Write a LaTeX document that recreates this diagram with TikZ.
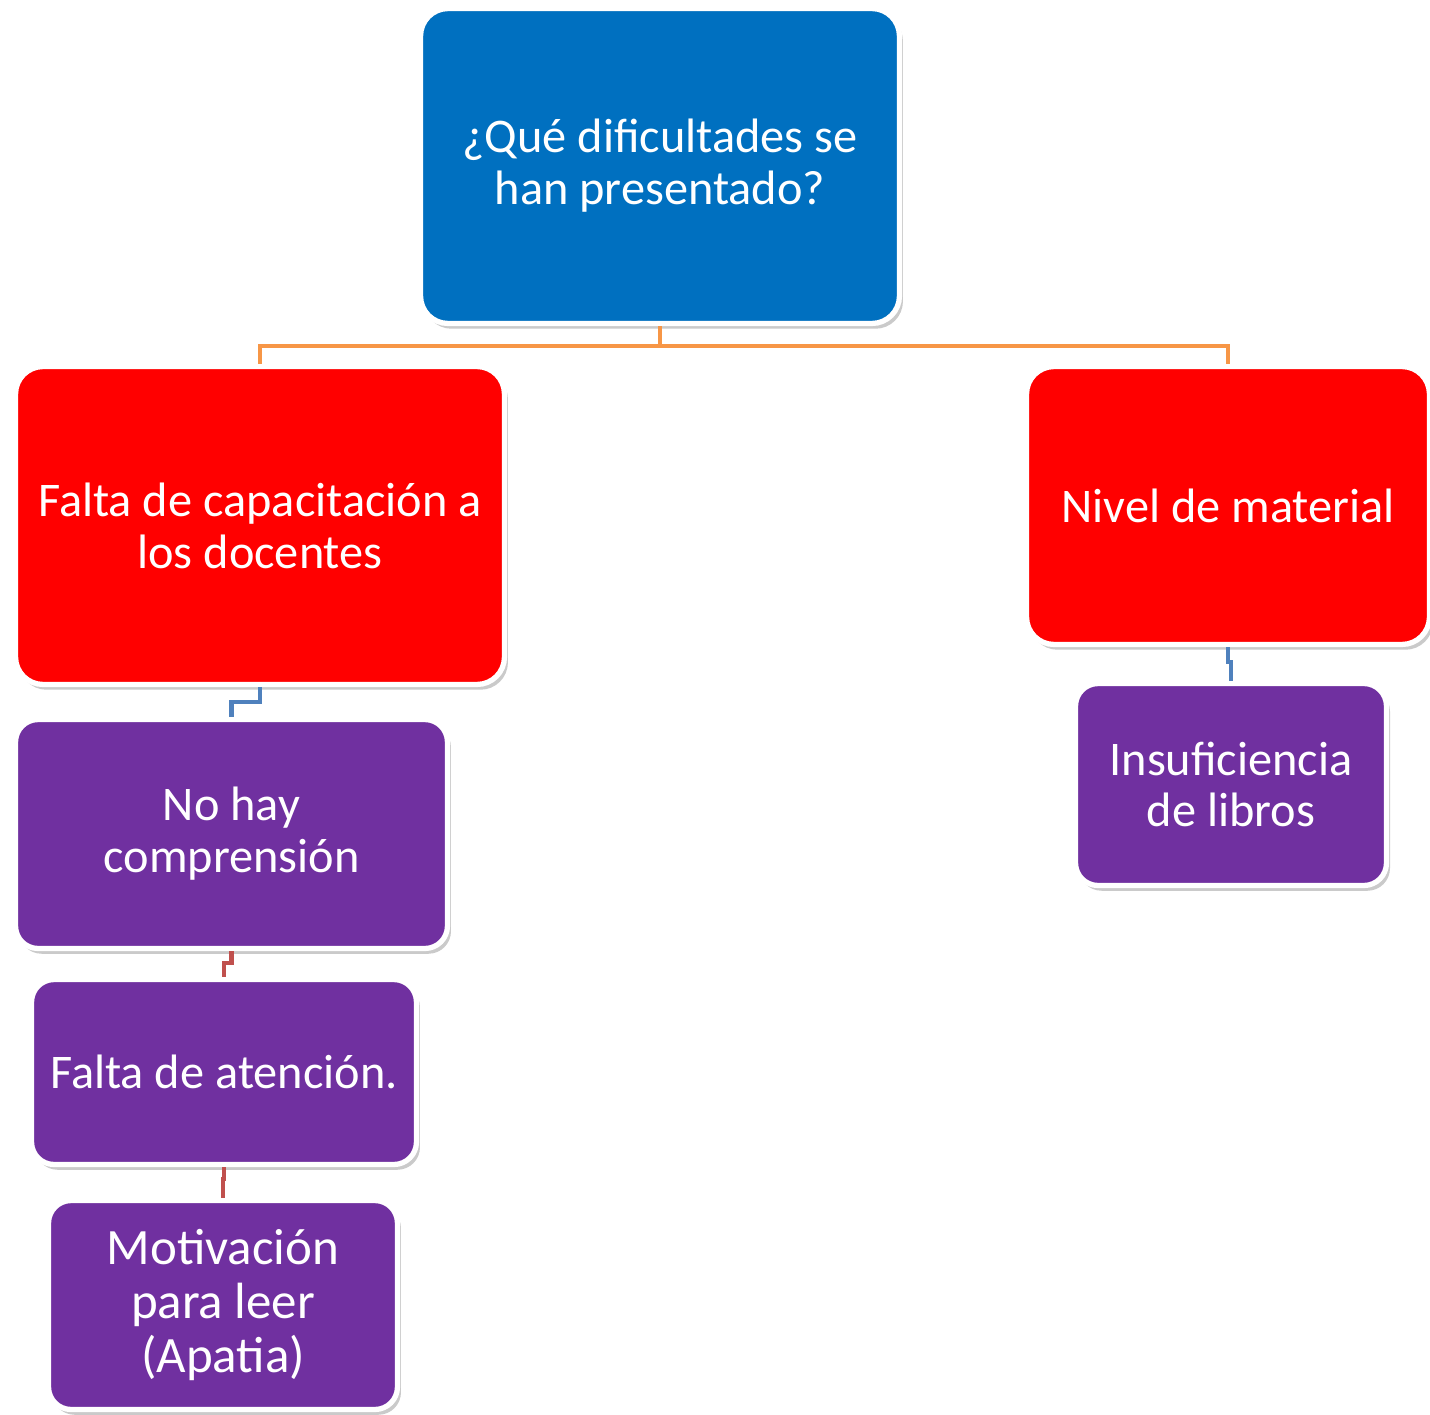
\documentclass[tikz,border=0pt]{standalone}
\usepackage{fontspec}
\setmainfont{Carlito}
\usepackage{xcolor}
\usetikzlibrary{positioning,calc,shadows}
\definecolor{qblue}{HTML}{0070C0}
\definecolor{qred}{HTML}{FF0000}
\definecolor{qpurple}{HTML}{7030A0}
\definecolor{qorange}{HTML}{F79646}
\definecolor{lblue}{HTML}{4F81BD}
\definecolor{lred}{HTML}{C0504D}

\begin{document}
\begin{tikzpicture}[
    x=0.02cm, y=-0.02cm,
    font=\fontsize{27.5}{29.5}\selectfont,
    caja/.style={rectangle, rounded corners=0.55cm, draw=white, line width=3pt,
        text=white, align=center, inner sep=2pt,
        drop shadow={fill=gray!70, opacity=0.6, shadow xshift=2pt, shadow yshift=-3pt}},
    pregunta/.style={caja, fill=qblue},
    causa/.style={caja, fill=qred},
    detalle/.style={caja, fill=qpurple, rounded corners=0.45cm},
    conn/.style={line width=2.4pt}
]
    \useasboundingbox (0,0) rectangle (1430,1415);

    % Top
    \node[pregunta, minimum width=9.58cm, minimum height=6.3cm] (top) at (660,166)
        {¿Qué dificultades se\\han presentado?};

    % Causes
    \node[causa, minimum width=9.78cm, minimum height=6.36cm] (falta) at (260,525.5)
        {Falta de capacitación a\\los docentes};
    \node[causa, minimum width=8.06cm, minimum height=5.56cm] (nivel) at (1228,505.5)
        {Nivel de material};

    % Details
    \node[detalle, minimum width=8.64cm, minimum height=4.58cm] (comp) at (231.5,834)
        {No hay\\comprensión};
    \node[detalle, minimum width=7.7cm, minimum height=3.7cm] (aten) at (224,1072)
        {Falta de atención.};
    \node[detalle, minimum width=6.98cm, minimum height=4.18cm,
        font=\fontsize{29}{31}\selectfont] (motiv) at (223,1305)
        {Motivación\\para leer\\(Apatia)};
    \node[detalle, minimum width=6.22cm, minimum height=4.04cm] (libros) at (1231,784.5)
        {Insuficiencia\\de libros};

    % Connectors
    \draw[conn, qorange, line width=2pt] (top.south) -- ++(0,20) -| (falta.north);
    \draw[conn, qorange, line width=2pt] (top.south) -- ++(0,20) -| (nivel.north);
    \draw[conn, lblue] (falta.south) -- ++(0,15) -| (comp.north);
    \draw[conn, lblue] (nivel.south) -- ++(0,15) -| (libros.north);
    \draw[conn, lred] (comp.south) -- ++(0,12) -| (aten.north);
    \draw[conn, lred] (aten.south) -- ++(0,12) -| (motiv.north);
\end{tikzpicture}
\end{document}
